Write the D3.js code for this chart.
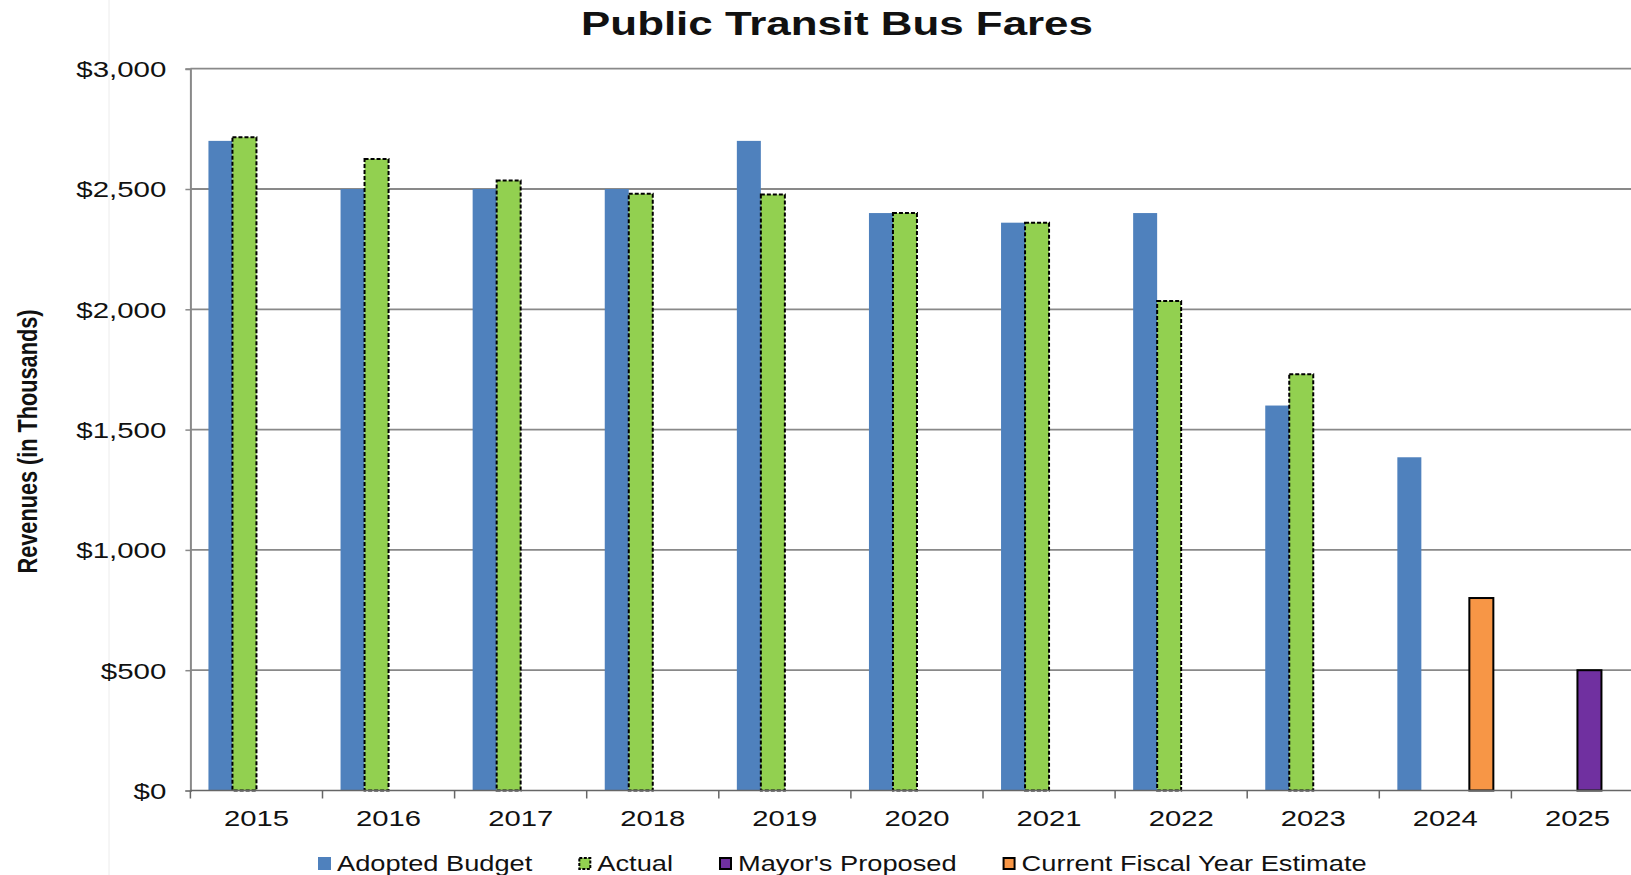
<!DOCTYPE html>
<html>
<head>
<meta charset="utf-8">
<script src="https://cdnjs.cloudflare.com/ajax/libs/d3/7.8.5/d3.min.js"></script>
<style>
  html, body { margin: 0; padding: 0; background: #fff; overflow: hidden; }
  text { font-family: "Liberation Sans", Arial, sans-serif; fill: #111; }
</style>
</head>
<body>
<svg id="chart" width="1631" height="875"></svg>
<script>
// chart values
var years = ["2015", "2016", "2017", "2018", "2019", "2020", "2021", "2022", "2023", "2024", "2025"];
var adopted  = [2700, 2500, 2500, 2500, 2700, 2400, 2360, 2400, 1600, 1385, null];
var actual   = [2715, 2625, 2535, 2480, 2477, 2400, 2360, 2035, 1730, null, null];
var mayors   = [null, null, null, null, null, null, null, null, null, null, 500];
var estimate = [null, null, null, null, null, null, null, null, null, 800, null];
var yTicks = [0, 500, 1000, 1500, 2000, 2500, 3000];

var seriesNames = ["Adopted Budget", "Actual", "Mayor's Proposed", "Current Fiscal Year Estimate"];
var seriesValues = [adopted, actual, mayors, estimate];
var seriesColor = ["#4F81BD", "#92D050", "#7030A0", "#F79646"];

var svg = d3.select("#chart");

// plot box (window.top is reserved, so no "top" here)
var plotLeft = 190.4, step = 132.1, plotTop = 68.7, plotBottom = 790.5;

var x = d3.scaleBand()
    .domain(years)
    .range([plotLeft, plotLeft + step * years.length])
    .padding(0);

var xs = d3.scaleBand()
    .domain(seriesNames)
    .range([0, x.bandwidth()])
    .paddingInner(0)
    .paddingOuter(0.752);

var y = d3.scaleLinear().domain([0, 3000]).range([plotBottom, plotTop]);

var money = function(d) { return "$" + d3.format(",")(d); };

// faint frame line left of the plot
svg.append("line")
    .attr("x1", 109).attr("x2", 109).attr("y1", 0).attr("y2", 875)
    .attr("stroke", "#ececec").attr("stroke-width", 1);

// gridlines
svg.append("g").selectAll("line")
    .data(yTicks.filter(function(d) { return d > 0; }))
    .enter().append("line")
    .attr("x1", plotLeft).attr("x2", 1640)
    .attr("y1", function(d) { return y(d); })
    .attr("y2", function(d) { return y(d); })
    .attr("stroke", "#898989")
    .attr("stroke-width", 1.8);

// y axis
var yAxis = svg.append("g")
    .attr("transform", "translate(" + plotLeft + ",0)")
    .call(d3.axisLeft(y).tickValues(yTicks).tickSize(5).tickFormat(money));
yAxis.attr("font-family", null).attr("font-size", null);
yAxis.select(".domain").attr("stroke", "#898989").attr("stroke-width", 2);
yAxis.selectAll(".tick line").attr("stroke", "#898989").attr("stroke-width", 1.5);
yAxis.selectAll(".tick text")
    .attr("x", null).attr("dy", null)
    .attr("fill", "#111")
    .style("font-size", "22.5px")
    .attr("text-anchor", "end")
    .attr("transform", "translate(-24,7.8) scale(1.31,1)");

// bars
var groups = svg.append("g").selectAll("g")
    .data(years)
    .enter().append("g")
    .attr("transform", function(d) { return "translate(" + x(d) + ",0)"; });

seriesNames.forEach(function(name, si) {
    groups.filter(function(d, i) { return seriesValues[si][i] != null; })
        .append("rect")
        .attr("x", xs(name))
        .attr("width", xs.bandwidth())
        .attr("y", function(d) { return y(seriesValues[si][years.indexOf(d)]); })
        .attr("height", function(d) { return plotBottom - y(seriesValues[si][years.indexOf(d)]); })
        .attr("fill", seriesColor[si])
        .attr("stroke", si == 0 ? "none" : "#000")
        .attr("stroke-width", 2)
        .attr("stroke-dasharray", si == 1 ? "4,2" : null);
});

// x axis
var xAxis = svg.append("g")
    .attr("transform", "translate(0," + plotBottom + ")");
xAxis.append("line")
    .attr("x1", plotLeft).attr("x2", 1640)
    .attr("stroke", "#666").attr("stroke-width", 1.6);
xAxis.selectAll(".tk")
    .data(d3.range(years.length + 1))
    .enter().append("line")
    .attr("class", "tk")
    .attr("x1", function(i) { return plotLeft + i * step; })
    .attr("x2", function(i) { return plotLeft + i * step; })
    .attr("y1", 0).attr("y2", 8)
    .attr("stroke", "#666").attr("stroke-width", 1.5);
xAxis.selectAll(".lbl")
    .data(years)
    .enter().append("text")
    .attr("class", "lbl")
    .attr("text-anchor", "middle")
    .style("font-size", "22.5px")
    .attr("transform", function(d) {
        return "translate(" + (x(d) + x.bandwidth() / 2) + ",35.5) scale(1.3,1)";
    })
    .text(function(d) { return d; });

// title
svg.append("text")
    .attr("text-anchor", "middle")
    .attr("transform", "translate(837,35) scale(1.29,1)")
    .style("font-size", "34px")
    .style("font-weight", "bold")
    .text("Public Transit Bus Fares");

// y axis title
svg.append("text")
    .attr("text-anchor", "middle")
    .attr("transform", "translate(37,441.5) scale(1.28,1) rotate(-90)")
    .style("font-size", "21.7px")
    .style("font-weight", "bold")
    .text("Revenues (in Thousands)");

// legend
var lx = 318, k = 1.25;
seriesNames.forEach(function(name, si) {
    var g = svg.append("g").attr("transform", "translate(" + lx + ",857)");
    g.append("rect")
        .attr("x", si == 0 ? 0 : 1).attr("y", si == 0 ? 0 : 1)
        .attr("width", si == 0 ? 13 : 11).attr("height", si == 0 ? 13 : 11)
        .attr("fill", seriesColor[si])
        .attr("stroke", si == 0 ? "none" : "#000")
        .attr("stroke-width", 2)
        .attr("stroke-dasharray", si == 1 ? "3,1.5" : null);
    var t = g.append("text")
        .attr("transform", "translate(19,13.5) scale(" + k + ",1)")
        .style("font-size", "21.8px")
        .text(name);
    lx += 19 + t.node().getComputedTextLength() * k + 46;
});
</script>
</body>
</html>
